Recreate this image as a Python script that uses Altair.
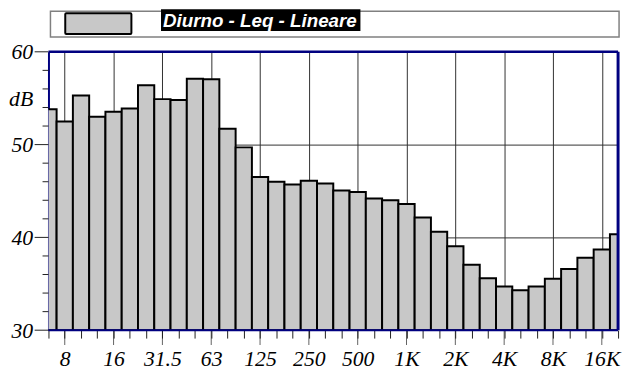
import altair as alt
import pandas as pd

# third-octave bands (Hz) and measured levels (dB)
BANDS = ["6.3", "8", "10", "12.5", "16", "20", "25", "31.5", "40", "50",
         "63", "80", "100", "125", "160", "200", "250", "315", "400", "500",
         "630", "800", "1K", "1.25K", "1.6K", "2K", "2.5K", "3.15K", "4K", "5K",
         "6.3K", "8K", "10K", "12.5K", "16K", "20K"]
LEVELS = [53.8, 52.5, 55.3, 53.0, 53.55, 53.9, 56.4, 54.9, 54.8, 57.1,
          57.05, 51.7, 49.7, 46.5, 46.0, 45.7, 46.1, 45.8, 45.05, 44.9,
          44.2, 44.0, 43.6, 42.15, 40.6, 39.05, 37.05, 35.6, 34.7, 34.3,
          34.7, 35.55, 36.6, 37.8, 38.7, 40.35]
TICK_LABELS = ["8", "16", "31.5", "63", "125", "250", "500", "1K", "2K", "4K", "8K", "16K"]
Y_MIN, Y_MAX = 30, 60
Y_TICKS = list(range(Y_MIN, Y_MAX + 1, 2))
UNIT = "dB"
UNIT_AT = 55
SERIES = "Diurno - Leq - Lineare"

W, H = 577, 282
NAVY = "#000080"
BAR_FILL = "#c8c8c8"
SERIF = "Liberation Serif"
TICK_COLOR = "#202020"

df = pd.DataFrame({"idx": list(range(len(BANDS))), "band": BANDS, "level": LEVELS})
df["x0"] = df["idx"] - 0.5
df["x1"] = df["idx"] + 0.5
df["base"] = Y_MIN

label_arr = "[" + ",".join("'" + t + "'" for t in TICK_LABELS) + "]"
x_label_expr = f"datum.value % 3 == 1 ? {label_arr}[(datum.value - 1) / 3] : ''"

x_scale = alt.Scale(domain=[0, len(BANDS) - 1], nice=False, zero=False)
y_scale = alt.Scale(domain=[Y_MIN, Y_MAX], nice=False, zero=False)

x_axis = alt.Axis(
    values=list(range(len(BANDS))), labelExpr=x_label_expr, title=None,
    labelFont=SERIF, labelFontStyle="italic", labelFontSize=22,
    labelColor="black", labelPadding=11, labelFlush=False, labelOverlap=False,
    ticks=True, tickSize=8, tickColor=TICK_COLOR, tickWidth=1,
    grid=True, gridColor="#303030", gridWidth=1,
    gridOpacity={"condition": {"test": "datum.value % 3 == 1", "value": 1}, "value": 0},
    domain=False, zindex=0,
)
y_axis = alt.Axis(
    values=Y_TICKS + [UNIT_AT], title=None,
    labelExpr=f"datum.value == {UNIT_AT} ? '{UNIT}' : (datum.value % 10 == 0 ? datum.label : '')",
    labelFont=SERIF, labelFontStyle="italic", labelFontSize=22,
    labelColor="black", labelPadding=16, labelOverlap=False, labelFlush=False,
    ticks=True, tickSize=0, tickOpacity=0,
    grid=True, gridColor="#303030", gridWidth=1,
    gridOpacity={"condition": {"test": "datum.value == 40 || datum.value == 50", "value": 1}, "value": 0},
    domain=True, domainColor=NAVY, domainWidth=2, zindex=0,
)

bars = alt.Chart(df).mark_rect(
    clip=True, fill=BAR_FILL, stroke="black", strokeWidth=2
).encode(
    x=alt.X("x0:Q", scale=x_scale, axis=x_axis),
    x2="x1:Q",
    y=alt.Y("level:Q", scale=y_scale, axis=y_axis),
    y2="base:Q",
    tooltip=["band", "level"],
)

# longer major ticks below the plot, through the shared x scale
xt = pd.DataFrame({"idx": list(range(len(BANDS)))})
x_major = alt.Chart(xt).transform_filter("datum.idx % 3 == 1").mark_tick(
    color=TICK_COLOR, thickness=1, orient="vertical", clip=False).encode(
    x=alt.X("idx:Q", scale=x_scale, axis=x_axis),
    y=alt.value(H + 7.5), size=alt.value(15))
yt = pd.DataFrame({"v": Y_TICKS})
y_major = alt.Chart(yt).transform_filter("datum.v % 10 == 0").mark_rule(
    color=TICK_COLOR, strokeWidth=1, clip=False).encode(
    y=alt.Y("v:Q", scale=y_scale, axis=y_axis), x=alt.value(-14), x2=alt.value(0))
y_minor = alt.Chart(yt).transform_filter("datum.v % 10 != 0").mark_rule(
    color=TICK_COLOR, strokeWidth=1, clip=False).encode(
    y=alt.Y("v:Q", scale=y_scale, axis=y_axis), x=alt.value(-6), x2=alt.value(0))

one = pd.DataFrame({"t": [SERIES]})
base = alt.Chart(one)

top_rule = base.mark_rule(color=NAVY, strokeWidth=2.5).encode(
    x=alt.value(0), x2=alt.value(W), y=alt.value(0))
bottom_rule = base.mark_rule(color=NAVY, strokeWidth=2).encode(
    x=alt.value(0), x2=alt.value(W), y=alt.value(H))
right_rule = base.mark_rule(color=NAVY, strokeWidth=3).encode(
    x=alt.value(W), y=alt.value(0), y2=alt.value(H))

legend_box = base.mark_rect(fill="white", stroke="#808080", strokeWidth=1.5).encode(
    x=alt.value(2), x2=alt.value(578), y=alt.value(-41), y2=alt.value(-15))
legend_swatch = base.mark_rect(fill=BAR_FILL, stroke="black", strokeWidth=2, cornerRadius=1).encode(
    x=alt.value(17), x2=alt.value(84), y=alt.value(-39), y2=alt.value(-18))
legend_bg = base.mark_rect(fill="black").encode(
    x=alt.value(114), x2=alt.value(316), y=alt.value(-43), y2=alt.value(-21))
legend_text = base.mark_text(
    align="left", baseline="alphabetic", font="Liberation Sans", fontSize=19,
    fontWeight="bold", fontStyle="italic", color="white"
).encode(x=alt.value(116), y=alt.value(-25), text="t:N")

chart = alt.layer(
    bars, x_major, y_major, y_minor,
    top_rule, bottom_rule, right_rule,
    legend_box, legend_swatch, legend_bg, legend_text
).properties(
    width=W, height=H,
    autosize=alt.AutoSizeParams(type="none"),
    padding={"left": 41, "top": 42, "right": 6, "bottom": 42},
    background="white",
).configure_view(stroke=None)

chart.save("out.html", embed_options={"renderer": "svg", "actions": False})
